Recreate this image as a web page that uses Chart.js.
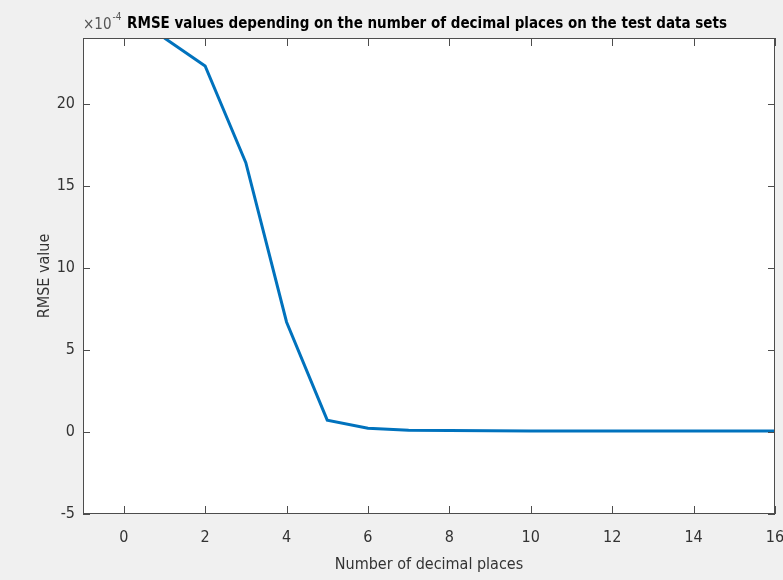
<!DOCTYPE html>
<html lang="en">
<head>
    <meta charset="UTF-8">
    <title>RMSE vs decimal places</title>
    <style>
        html, body { margin: 0; padding: 0; background: #f0f0f0; }
        .chart-container { position: relative; width: 783px; height: 580px; }
    </style>
</head>
<body>
    <div class="chart-container">
        <canvas id="rmseChart"></canvas>
    </div>

    <script src="https://cdn.jsdelivr.net/npm/chart.js"></script>
    <script>
        // values (y in units of 1e-4)
        const decimalPlaces = [1, 2, 3, 4, 5, 6, 7, 8, 9, 10, 11, 12, 13, 14, 15, 16];
        const rmseValues = [24.0, 22.3, 16.4, 6.7, 0.72, 0.22, 0.1, 0.08, 0.07, 0.06, 0.06, 0.06, 0.06, 0.06, 0.06, 0.06];
        const xTicks = [0, 2, 4, 6, 8, 10, 12, 14, 16];
        const yTicks = [-5, 0, 5, 10, 15, 20];
        const titleText = 'RMSE values depending on the number of decimal places on the test data sets';

        const FONT = '"Liberation Sans Narrow", "DejaVu Sans Condensed", "Liberation Sans", Arial, sans-serif';
        const AXIS_COLOR = '#4d4d4d';
        const TEXT_COLOR = '#333333';

        // MATLAB-like box with inward ticks on all four sides, plus title and exponent
        const boxPlugin = {
            id: 'boxPlugin',
            beforeDatasetsDraw(chart) {
                const { ctx, chartArea: a } = chart;
                ctx.save();
                ctx.fillStyle = '#ffffff';
                ctx.fillRect(a.left, a.top, a.right - a.left, a.bottom - a.top);
                ctx.restore();
            },
            afterDraw(chart) {
                const { ctx, chartArea: a, scales } = chart;
                ctx.save();
                ctx.strokeStyle = AXIS_COLOR;
                ctx.lineWidth = 1;
                ctx.strokeRect(a.left + 0.5, a.top + 0.5, a.right - a.left - 1, a.bottom - a.top - 1);
                ctx.beginPath();
                xTicks.forEach(v => {
                    const px = Math.round(scales.x.getPixelForValue(v)) + 0.5;
                    ctx.moveTo(px, a.bottom); ctx.lineTo(px, a.bottom - 8);
                    ctx.moveTo(px, a.top); ctx.lineTo(px, a.top + 8);
                });
                yTicks.concat([24]).forEach(v => {
                    const py = Math.round(scales.y.getPixelForValue(v)) + 0.5;
                    ctx.moveTo(a.left, py); ctx.lineTo(a.left + 7, py);
                    ctx.moveTo(a.right, py); ctx.lineTo(a.right - 7, py);
                });
                ctx.stroke();

                // title centred over the axes
                ctx.fillStyle = '#000000';
                ctx.textBaseline = 'alphabetic';
                ctx.textAlign = 'center';
                ctx.font = 'bold 15px ' + FONT;
                ctx.fillText(titleText, (a.left + a.right) / 2 - 2, 28);

                // exponent label
                ctx.fillStyle = '#555555';
                ctx.textAlign = 'left';
                ctx.font = '15px ' + FONT;
                ctx.fillText('\u00d710', a.left, 29);
                const w = ctx.measureText('\u00d710').width;
                ctx.font = '10px ' + FONT;
                ctx.fillText('-4', a.left + w + 1, 20);
                ctx.restore();
            }
        };

        new Chart(document.getElementById('rmseChart'), {
            type: 'line',
            data: {
                datasets: [{
                    data: decimalPlaces.map((x, i) => ({ x: x, y: rmseValues[i] })),
                    borderColor: '#0072BD',
                    borderWidth: 3,
                    pointRadius: 0,
                    tension: 0,
                    fill: false
                }]
            },
            options: {
                responsive: true,
                maintainAspectRatio: false,
                animation: false,
                layout: { padding: { left: 0, right: 8, top: 38, bottom: 6 } },
                plugins: {
                    legend: { display: false },
                    tooltip: { enabled: false },
                    title: { display: false }
                },
                scales: {
                    x: {
                        type: 'linear',
                        min: -1,
                        max: 16,
                        border: { display: false },
                        grid: { display: false, drawTicks: false },
                        afterBuildTicks: s => { s.ticks = xTicks.map(v => ({ value: v })); },
                        afterFit: s => { s.height = 60; s.paddingLeft = 0; s.paddingRight = 0; },
                        ticks: {
                            color: TEXT_COLOR,
                            font: { family: FONT, size: 16 },
                            padding: 14,
                            maxRotation: 0
                        },
                        title: {
                            display: true,
                            text: 'Number of decimal places',
                            color: TEXT_COLOR,
                            font: { family: FONT, size: 16 },
                            padding: { top: 6, bottom: 0 }
                        }
                    },
                    y: {
                        type: 'linear',
                        min: -5,
                        max: 24,
                        border: { display: false },
                        grid: { display: false, drawTicks: false },
                        afterBuildTicks: s => { s.ticks = yTicks.map(v => ({ value: v })); },
                        afterFit: s => { s.width = 83; s.paddingTop = 0; s.paddingBottom = 0; },
                        ticks: {
                            color: TEXT_COLOR,
                            font: { family: FONT, size: 16 },
                            padding: 8
                        },
                        title: {
                            display: true,
                            text: 'RMSE value',
                            color: TEXT_COLOR,
                            font: { family: FONT, size: 16 },
                            padding: { top: 35, bottom: 10 }
                        }
                    }
                }
            },
            plugins: [boxPlugin]
        });
    </script>
</body>
</html>
